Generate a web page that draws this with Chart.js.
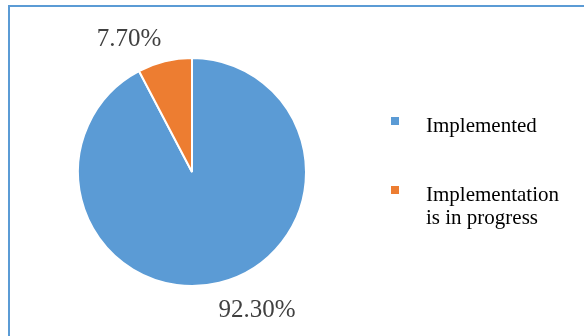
<!DOCTYPE html>
<html>
<head>
<meta charset="utf-8">
<script src="https://cdn.jsdelivr.net/npm/chart.js"></script>
<style>
  html, body { margin: 0; padding: 0; background: #fff; }
  #wrap { position: relative; width: 584px; height: 336px; overflow: hidden; }
  #frame {
    position: absolute; left: 8px; top: 5px; width: 600px; height: 360px;
    border: 2px solid #5B9BD5; pointer-events: none;
  }
  canvas { position: absolute; left: 0; top: 0; }
</style>
</head>
<body>
<div id="wrap">
  <div id="frame"></div>
  <canvas id="pieChart" width="584" height="336"></canvas>
</div>
<script>
const categories = ['Implemented', 'Implementation is in progress'];
const shares = [92.3, 7.7];
const valueLabels = ['92.30%', '7.70%'];
const sliceColors = ['#5B9BD5', '#ED7D31'];

// where the percentage labels sit, relative to the point just outside each slice
const labelShift = [[31, 1], [-29, 5]];

const serif = '"Liberation Serif", "Times New Roman", serif';

const pieLabels = {
    id: 'pieLabels',
    afterDraw(chart) {
        const ctx = chart.ctx;
        const arcs = chart.getDatasetMeta(0).data;
        ctx.save();
        ctx.font = '25px ' + serif;
        ctx.fillStyle = '#404040';
        ctx.textAlign = 'center';
        ctx.textBaseline = 'middle';
        arcs.forEach((arc, i) => {
            const mid = (arc.startAngle + arc.endAngle) / 2;
            const r = arc.outerRadius + 28;
            const x = arc.x + Math.cos(mid) * r + labelShift[i][0];
            const y = arc.y + Math.sin(mid) * r + labelShift[i][1];
            ctx.fillText(valueLabels[i], x, y);
        });
        ctx.restore();
    }
};

function wrapText(ctx, text, maxWidth) {
    const words = text.split(' ');
    const lines = [];
    let line = '';
    words.forEach(w => {
        const test = line ? line + ' ' + w : w;
        if (line && ctx.measureText(test).width > maxWidth) {
            lines.push(line);
            line = w;
        } else {
            line = test;
        }
    });
    if (line) lines.push(line);
    return lines;
}

const sideLegend = {
    id: 'sideLegend',
    afterDraw(chart) {
        const ctx = chart.ctx;
        const boxX = 391, boxSize = 8, textX = 426;
        const baselines = [132, 201];
        const lineGap = 23;
        ctx.save();
        ctx.font = '21px ' + serif;
        ctx.textBaseline = 'alphabetic';
        ctx.textAlign = 'left';
        categories.forEach((name, i) => {
            const base = baselines[i];
            ctx.fillStyle = sliceColors[i];
            ctx.fillRect(boxX, base - 15, boxSize, boxSize);
            ctx.fillStyle = '#000000';
            wrapText(ctx, name, 140).forEach((ln, k) => {
                ctx.fillText(ln, textX, base + k * lineGap);
            });
        });
        ctx.restore();
    }
};

new Chart(document.getElementById('pieChart').getContext('2d'), {
    type: 'pie',
    data: {
        labels: categories,
        datasets: [{
            data: shares,
            backgroundColor: sliceColors,
            borderColor: '#ffffff',
            borderWidth: 2
        }]
    },
    options: {
        responsive: false,
        animation: false,
        layout: {
            padding: { left: 77, right: 277, top: 57, bottom: 49 }
        },
        plugins: {
            legend: { display: false },
            tooltip: { enabled: false }
        }
    },
    plugins: [pieLabels, sideLegend]
});
</script>
</body>
</html>
